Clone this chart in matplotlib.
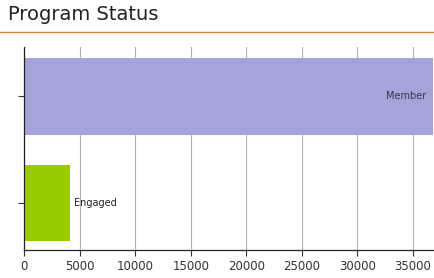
import matplotlib
matplotlib.use("Agg")
import matplotlib.pyplot as plt
from matplotlib.lines import Line2D

categories = ["Engaged", "Member"]
values = [4100, 36800]
colors = ["#99cc00", "#a4a4d8"]
xticks = [0, 5000, 10000, 15000, 20000, 25000, 30000, 35000]

fig = plt.figure(figsize=(4.35, 2.78), dpi=100)
ax = fig.add_axes([0.0552, 0.1007, 0.9402, 0.7303])

ypos = list(range(len(categories)))
ax.barh(ypos, values, height=0.72, color=colors, zorder=2)
ax.set_ylim(-0.44, 1.46)
ax.set_xlim(0, values[1])
ax.set_xticks(xticks)
ax.set_xticklabels([str(t) for t in xticks], fontsize=8.5, color="#333333")
ax.set_yticks(ypos)
ax.set_yticklabels([])
ax.tick_params(axis="both", direction="out", length=4, width=0.8, color="#333333")
ax.tick_params(axis="x", pad=3)
ax.grid(axis="x", color="#b0b0b0", linewidth=0.8, zorder=0)
for s in ["top", "right"]:
    ax.spines[s].set_visible(False)
for s in ["left", "bottom"]:
    ax.spines[s].set_color("#222222")
    ax.spines[s].set_linewidth(0.9)

# labels
ax.text(values[0] + 400, 0, categories[0], va="center", ha="left", fontsize=7, color="#222222")
ax.text(values[1] - 600, 1, categories[1], va="center", ha="right", fontsize=7, color="#333355")

fig.text(8 / 435, 1 - 15 / 278, "Program Status", fontsize=14, color="#222222", va="center", ha="left")
fig.add_artist(Line2D([0, 1], [1 - 31.5 / 278, 1 - 31.5 / 278], color="#d08a30", linewidth=1.0, transform=fig.transFigure))

fig.savefig("out.png", dpi=100)
